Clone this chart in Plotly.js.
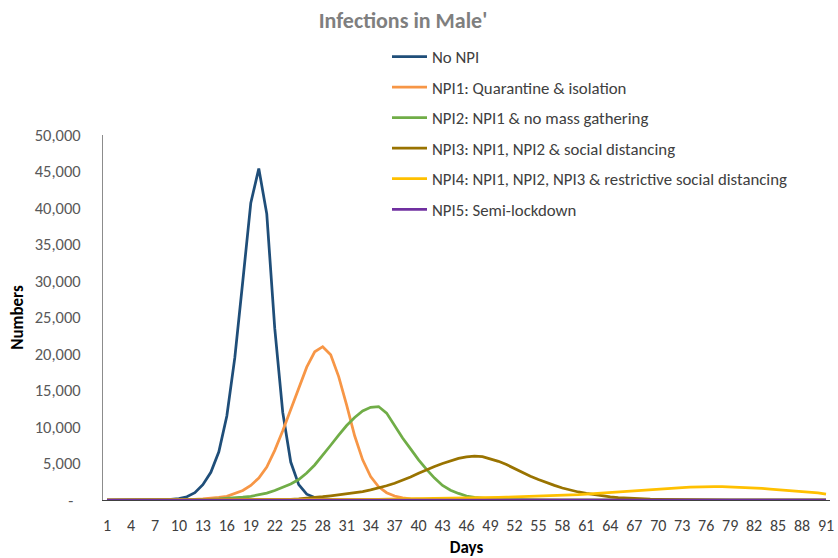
<!DOCTYPE html>
<html><head><meta charset="utf-8">
<script src="https://cdn.plot.ly/plotly-3.0.1.min.js"></script>
<style>html,body{margin:0;padding:0;background:#fff}#chart{width:838px;height:558px}</style>
</head><body><div id="chart"></div>
<script>
const days = [1,2,3,4,5,6,7,8,9,10,11,12,13,14,15,16,17,18,19,20,21,22,23,24,25,26,27,28,29,30,31,32,33,34,35,36,37,38,39,40,41,42,43,44,45,46,47,48,49,50,51,52,53,54,55,56,57,58,59,60,61,62,63,64,65,66,67,68,69,70,71,72,73,74,75,76,77,78,79,80,81,82,83,84,85,86,87,88,89,90,91];
const dayTicks = [1,4,7,10,13,16,19,22,25,28,31,34,37,40,43,46,49,52,55,58,61,64,67,70,73,76,79,82,85,88,91];

const noNPI = [0,0,0,0,5,10,20,50,100,200,450,1000,2100,3800,6600,11500,19500,30000,40700,45400,39200,23500,12000,5200,2100,800,350,150,60,25,10,5,0,0,0,0,0,0,0,0,0,0,0,0,0,0,0,0,0,0,0,0,0,0,0,0,0,0,0,0,0,0,0,0,0,0,0,0,0,0,0,0,0,0,0,0,0,0,0,0,0,0,0,0,0,0,0,0,0,0,0];
const npi1 = [0,0,0,0,0,0,5,10,20,30,50,90,150,230,350,500,900,1300,2000,3000,4500,6800,9500,12400,15400,18200,20300,21000,19900,16900,13000,8800,5500,3200,1800,1000,550,300,160,90,50,25,12,6,0,0,0,0,0,0,0,0,0,0,0,0,0,0,0,0,0,0,0,0,0,0,0,0,0,0,0,0,0,0,0,0,0,0,0,0,0,0,0,0,0,0,0,0,0,0,0];
const npi2 = [0,0,0,0,0,0,0,5,10,20,30,50,70,100,140,200,280,380,500,700,950,1300,1700,2200,2800,3700,4800,6100,7500,8900,10200,11300,12200,12700,12800,11900,10200,8500,7000,5500,4200,3000,2000,1350,900,550,350,220,140,80,50,30,20,10,5,0,0,0,0,0,0,0,0,0,0,0,0,0,0,0,0,0,0,0,0,0,0,0,0,0,0,0,0,0,0,0,0,0,0,0,0];
const npi3 = [0,0,0,0,0,0,0,0,0,0,0,0,0,0,5,10,15,20,25,30,40,55,70,100,150,230,330,450,580,720,850,980,1150,1380,1650,1950,2300,2700,3150,3650,4150,4600,5000,5400,5700,5900,6000,5950,5650,5300,4850,4300,3750,3250,2800,2350,2000,1650,1350,1100,900,720,560,440,340,260,200,150,120,90,70,55,40,30,20,15,10,5,0,0,0,0,0,0,0,0,0,0,0,0,0];
const npi4 = [0,0,0,0,0,0,0,0,0,0,0,0,0,0,0,0,0,0,0,10,12,15,18,20,25,30,35,40,45,50,60,70,80,90,100,110,120,130,140,150,160,180,200,220,240,260,280,300,330,360,390,420,450,480,520,560,600,650,700,750,820,900,970,1050,1120,1200,1300,1380,1450,1520,1580,1650,1700,1750,1800,1820,1830,1830,1800,1770,1720,1650,1580,1500,1420,1330,1250,1150,1060,970,800];
const npi5 = [0,0,0,0,0,0,0,0,0,0,0,0,0,0,0,0,0,0,0,0,0,0,0,0,0,0,0,0,0,0,0,0,0,0,0,0,0,0,0,0,0,0,0,0,0,0,0,0,0,0,0,0,0,0,0,0,0,0,0,0,0,0,0,0,0,0,0,0,0,0,0,0,0,0,0,0,0,0,0,0,0,0,0,0,0,0,0,0,0,0,0];

const seriesNames = ["No NPI","NPI1: Quarantine & isolation","NPI2: NPI1 & no mass gathering","NPI3: NPI1, NPI2 & social distancing","NPI4: NPI1, NPI2, NPI3 & restrictive social distancing","NPI5: Semi-lockdown"];
const seriesColors = ["#1F4E79","#F79646","#70AD47","#997300","#FFC000","#7030A0"];
const seriesValues = [noNPI,npi1,npi2,npi3,npi4,npi5];

const yTickVals = [0,5000,10000,15000,20000,25000,30000,35000,40000,45000,50000];
const yTickText = ["-\u00a0\u00a0","5,000","10,000","15,000","20,000","25,000","30,000","35,000","40,000","45,000","50,000"];

const FONT = "Carlito, Calibri, Lato, sans-serif";

const traces = seriesValues.map((v,i)=>({
  type:"scatter", mode:"lines", x:days, y:v, name:seriesNames[i],
  legendgroup:"g"+i,
  line:{color:seriesColors[i], width:2.75},
  hoverinfo:"x+y+name"
}));

const layout = {
  width:838, height:558,
  margin:{l:103, r:8, t:135, b:57.5},
  paper_bgcolor:"#fff", plot_bgcolor:"#fff",
  font:{family:FONT, size:16, color:"#595959"},
  title:{text:"Infections in Male'", font:{family:FONT, size:22, color:"#7F7F7F", weight:"bold"},
    x:403/838, xref:"container", xanchor:"center", y:1-20/558, yref:"container", yanchor:"middle"},
  showlegend:true,
  legend:{x:(387-103)/727, xanchor:"left", y:(500.5-39)/365.5, yanchor:"top",
    traceorder:"grouped", tracegroupgap:5.7, itemwidth:35, font:{family:FONT, size:16.8, color:"#404040"},
    bgcolor:"rgba(0,0,0,0)", borderwidth:0},
  xaxis:{range:[0.5,91.5], tickmode:"array", tickvals:dayTicks, ticktext:dayTicks.map(String),
    showgrid:false, zeroline:false, showline:true, linecolor:"#404040", linewidth:1,
    ticks:"outside", ticklen:11, tickcolor:"rgba(0,0,0,0)",
    tickfont:{family:FONT, size:16, color:"#404040"},
    title:{text:"Days", font:{family:FONT, size:17, color:"#000", weight:"bold"}, standoff:12}},
  yaxis:{range:[0,50000], tickmode:"array", tickvals:yTickVals, ticktext:yTickText,
    showgrid:false, zeroline:false, showline:true, linecolor:"#8C8C8C", linewidth:1,
    ticks:"outside", ticklen:18, tickcolor:"rgba(0,0,0,0)",
    tickfont:{family:FONT, size:16.5, color:"#595959"},
    title:{text:"Numbers", font:{family:FONT, size:17, color:"#000", weight:"bold"}, standoff:6}}
};

Plotly.newPlot("chart", traces, layout, {displayModeBar:false, staticPlot:true});
</script></body></html>
